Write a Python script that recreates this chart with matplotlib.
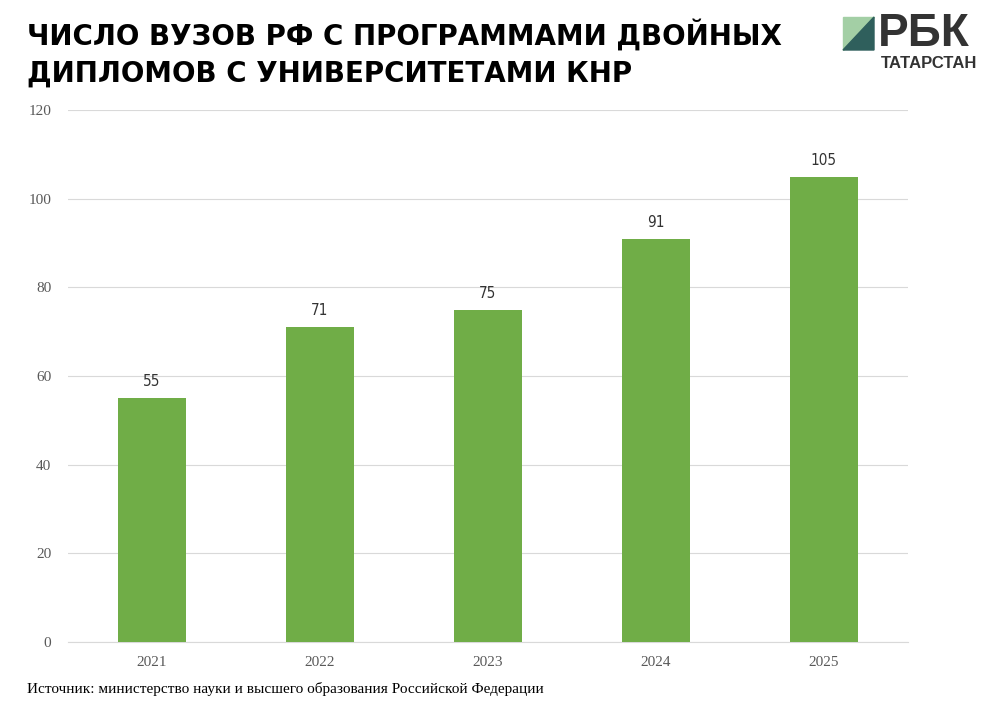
import matplotlib.pyplot as plt
from matplotlib.patches import Polygon

years = ["2021", "2022", "2023", "2024", "2025"]
counts = [55, 71, 75, 91, 105]

W, H = 1004, 727
fig = plt.figure(figsize=(W / 100, H / 100), dpi=100)
ax = fig.add_axes([68 / W, (H - 642) / H, (908 - 68) / W, (642 - 110) / H])

x = range(len(years))
bars = ax.bar(x, counts, width=0.4, color="#70ad47", zorder=3)
for xi, v in zip(x, counts):
    ax.text(xi, v + 2, str(v), ha="center", va="bottom", fontsize=11,
            family="DejaVu Sans", stretch="condensed", color="#333333")

ax.set_xlim(-0.5, len(years) - 0.5)
ax.set_ylim(0, 120)
ax.set_yticks(range(0, 121, 20))
ax.set_xticks(list(x))
ax.set_xticklabels(years)
ax.grid(axis="y", color="#d9d9d9", linewidth=0.8, zorder=0)
for s in ["top", "right", "left"]:
    ax.spines[s].set_visible(False)
ax.spines["bottom"].set_color("#d9d9d9")
ax.tick_params(length=0, labelsize=11, labelcolor="#595959", pad=10)
for lab in ax.get_xticklabels() + ax.get_yticklabels():
    lab.set_family("Liberation Serif")
ax.tick_params(axis="y", pad=12)

fig.text(27 / W, 1 - 53 / H, "ЧИСЛО ВУЗОВ РФ С ПРОГРАММАМИ ДВОЙНЫХ\nДИПЛОМОВ С УНИВЕРСИТЕТАМИ КНР",
         fontsize=20, fontweight="heavy", family="DejaVu Sans", va="center",
         linespacing=1.4, color="black")
fig.text(27 / W, 1 - 689 / H, "Источник: министерство науки и высшего образования Российской Федерации",
         fontsize=11, family="Liberation Serif", va="center")

# logo
x0, x1, y0, y1 = 843 / W, 874 / W, 1 - 50 / H, 1 - 17 / H
fig.patches.append(Polygon([(x0, y0), (x0, y1), (x1, y1)], closed=True,
                           transform=fig.transFigure, color="#a3cfa5"))
fig.patches.append(Polygon([(x0, y0), (x1, y1), (x1, y0)], closed=True,
                           transform=fig.transFigure, color="#2f5f5c"))
fig.text(878 / W, 1 - 34 / H, "РБК", fontsize=33, fontweight="bold",
         family="Liberation Sans", color="#333333", va="center")
fig.text(881 / W, 1 - 64 / H, "ТАТАРСТАН", fontsize=12, fontweight="bold",
         family="Liberation Sans", color="#333333", va="center")

fig.savefig("out.png", dpi=100)
